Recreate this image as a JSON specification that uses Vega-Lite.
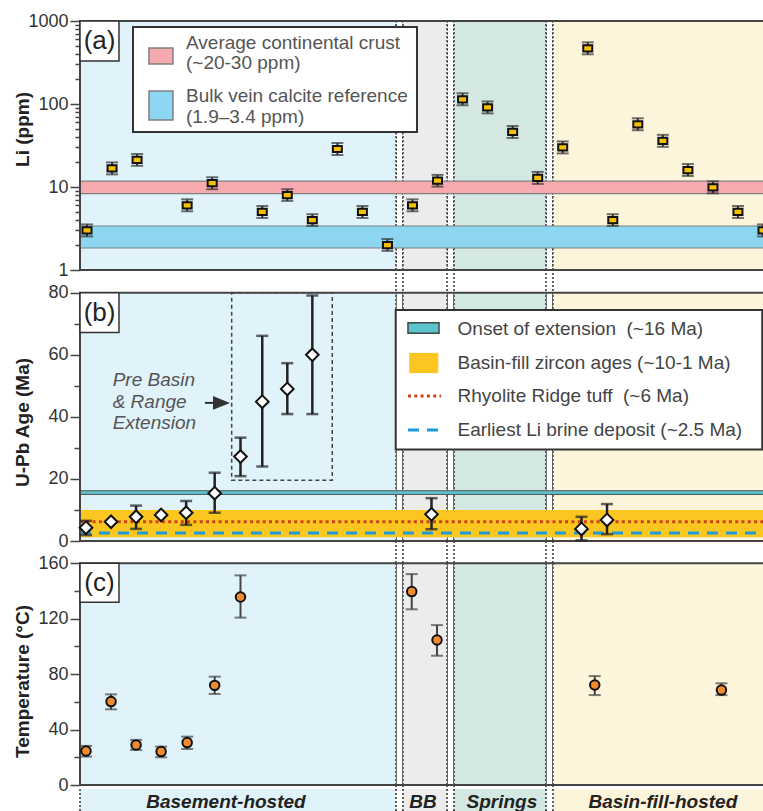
{
"$schema": "https://vega.github.io/schema/vega-lite/v6.json",
"autosize": "none",
"width": 683,
"height": 790,
"padding": {"left": 80, "top": 21, "right": 0, "bottom": 0},
"background": "white",
"config": {"view": {"stroke": null}, "font": "Liberation Sans"},
"datasets": {
 "one": [{"k": 1}],
 "groups": [
  {"group": "Basement", "start": -0.28, "end": 12.34, "mid": 5.55, "label": "Basement-hosted"},
  {"group": "BB", "start": 12.62, "end": 14.38, "mid": 13.42, "label": "BB"},
  {"group": "Springs", "start": 14.66, "end": 18.33, "mid": 16.57, "label": "Springs"},
  {"group": "Basin", "start": 18.61, "end": 27.5, "mid": 23.0, "label": "Basin-fill-hosted"}
 ],
 "li": [
  {"s": 0, "v": 3.0, "lo": 2.54, "hi": 3.54},
  {"s": 1, "v": 16.8, "lo": 14.2, "hi": 19.8},
  {"s": 2, "v": 21.2, "lo": 18.0, "hi": 25.0},
  {"s": 4, "v": 6.0, "lo": 5.1, "hi": 7.1},
  {"s": 5, "v": 11.1, "lo": 9.4, "hi": 13.1},
  {"s": 7, "v": 5.0, "lo": 4.24, "hi": 5.9},
  {"s": 8, "v": 8.0, "lo": 6.8, "hi": 9.4},
  {"s": 9, "v": 4.0, "lo": 3.4, "hi": 4.7},
  {"s": 10, "v": 28.7, "lo": 24.3, "hi": 33.9},
  {"s": 11, "v": 5.0, "lo": 4.24, "hi": 5.9},
  {"s": 12, "v": 2.0, "lo": 1.7, "hi": 2.36},
  {"s": 13, "v": 6.0, "lo": 5.1, "hi": 7.1},
  {"s": 14, "v": 11.9, "lo": 10.1, "hi": 14.0},
  {"s": 15, "v": 114, "lo": 96.6, "hi": 134.5},
  {"s": 16, "v": 91, "lo": 77.1, "hi": 107.4},
  {"s": 17, "v": 46, "lo": 39, "hi": 54.3},
  {"s": 18, "v": 12.9, "lo": 10.9, "hi": 15.2},
  {"s": 19, "v": 30, "lo": 25.4, "hi": 35.4},
  {"s": 20, "v": 469, "lo": 397, "hi": 553},
  {"s": 21, "v": 4.0, "lo": 3.4, "hi": 4.7},
  {"s": 22, "v": 57, "lo": 48.3, "hi": 67.3},
  {"s": 23, "v": 36, "lo": 30.5, "hi": 42.5},
  {"s": 24, "v": 16, "lo": 13.6, "hi": 18.9},
  {"s": 25, "v": 9.9, "lo": 8.4, "hi": 11.7},
  {"s": 26, "v": 5.0, "lo": 4.24, "hi": 5.9},
  {"s": 27, "v": 3.0, "lo": 2.54, "hi": 3.54}
 ],
 "age": [
  {"s": -0.04, "v": 4.3, "lo": 1.9, "hi": 6.5},
  {"s": 0.96, "v": 6.2, "lo": null, "hi": null},
  {"s": 1.96, "v": 7.8, "lo": 3.9, "hi": 11.4},
  {"s": 2.96, "v": 8.4, "lo": null, "hi": null},
  {"s": 3.96, "v": 9.1, "lo": 5.2, "hi": 12.9},
  {"s": 5.1, "v": 15.4, "lo": 9.1, "hi": 22.0},
  {"s": 6.13, "v": 27.2, "lo": 20.9, "hi": 33.3},
  {"s": 7.0, "v": 44.9, "lo": 24.0, "hi": 66.1},
  {"s": 8.0, "v": 49.0, "lo": 40.9, "hi": 57.3},
  {"s": 9.0, "v": 60.0, "lo": 40.9, "hi": 79.1},
  {"s": 13.76, "v": 8.6, "lo": 3.8, "hi": 13.8},
  {"s": 19.75, "v": 3.9, "lo": 0.2, "hi": 7.8},
  {"s": 20.77, "v": 6.8, "lo": 2.2, "hi": 11.9}
 ],
 "temp": [
  {"s": -0.04, "v": 24.5, "lo": 20.5, "hi": 28.2},
  {"s": 0.96, "v": 60.2, "lo": 54.6, "hi": 65.4},
  {"s": 1.96, "v": 28.9, "lo": 25.3, "hi": 32.5},
  {"s": 2.96, "v": 24.1, "lo": 20.0, "hi": 27.7},
  {"s": 4.0, "v": 30.6, "lo": 26.0, "hi": 34.9},
  {"s": 5.1, "v": 71.9, "lo": 65.7, "hi": 78.2},
  {"s": 6.13, "v": 135.7, "lo": 120.8, "hi": 151.3},
  {"s": 12.97, "v": 139.6, "lo": 126.8, "hi": 152.2},
  {"s": 13.98, "v": 104.6, "lo": 93.3, "hi": 115.4},
  {"s": 20.28, "v": 72.2, "lo": 64.9, "hi": 78.6},
  {"s": 25.34, "v": 68.5, "lo": 64.9, "hi": 73.4}
 ]
},
"resolve": {"scale": {"y": "independent"}, "axis": {"y": "independent"}},
"layer": [
 {"data": {"name": "groups"}, "transform": [{"filter": "datum.start > 0"}],
  "mark": {"type": "rule", "color": "#555", "strokeDash": [2, 2], "strokeWidth": 1.8},
  "encoding": {"x": {"field": "start", "type": "quantitative", "scale": {"domain": [-0.28, 27], "nice": false}, "axis": null}}},
 {"data": {"name": "groups"}, "transform": [{"filter": "datum.end < 27"}],
  "mark": {"type": "rule", "color": "#555", "strokeDash": [2, 2], "strokeWidth": 1.8},
  "encoding": {"x": {"field": "end", "type": "quantitative", "scale": {"domain": [-0.28, 27], "nice": false}, "axis": null}}},

 {"layer": [
  {"data": {"name": "groups"}, "mark": {"type": "rect"},
   "encoding": {
    "x": {"field": "start", "type": "quantitative", "scale": {"domain": [-0.28, 27], "nice": false}, "axis": null},
    "x2": {"field": "end"},
    "y": {"datum": 1, "type": "quantitative", "scale": {"type": "log", "domain": [1, 1000], "range": [249, 0], "nice": false},
      "axis": {"orient": "left", "values": [1,2,3,4,5,6,7,8,9,10,20,30,40,50,60,70,80,90,100,200,300,400,500,600,700,800,900,1000],
       "format": "d", "labelExpr": "(datum.value==1||datum.value==10||datum.value==100||datum.value==1000) ? datum.label : ''",
       "tickSize": {"condition": {"test": "datum.value==1||datum.value==10||datum.value==100||datum.value==1000", "value": 10}, "value": 5},
       "domain": false, "grid": false, "labelFontSize": 18, "labelColor": "#333", "labelPadding": 2, "labelOverlap": false, "labelFlush": false, "labelBound": false,
       "tickColor": "#444", "tickWidth": 1.5,
       "title": "Li (ppm)", "titleFontSize": 19, "titleFontWeight": "bold", "titleColor": "#222",
       "titleX": -58, "titleY": 108, "titleAngle": -90, "titleBaseline": "middle", "titleAlign": "center"}},
    "y2": {"datum": 1000},
    "color": {"field": "group", "type": "nominal", "scale": {"domain": ["Basement", "BB", "Springs", "Basin"], "range": ["#e0f2fa", "#ececec", "#d4e8e3", "#fdf4dc"]}, "legend": null}
   }},
  {"data": {"name": "groups"}, "transform": [{"filter": "datum.start > 0"}],
   "mark": {"type": "rule", "color": "#555", "strokeDash": [2, 2], "strokeWidth": 1.8},
   "encoding": {"x": {"field": "start", "type": "quantitative", "scale": {"domain": [-0.28, 27], "nice": false}, "axis": null},
    "y": {"datum": 1, "type": "quantitative", "scale": {"type": "log", "domain": [1, 1000], "range": [249, 0], "nice": false}}, "y2": {"datum": 1000}}},
  {"data": {"name": "groups"}, "transform": [{"filter": "datum.end < 27"}],
   "mark": {"type": "rule", "color": "#555", "strokeDash": [2, 2], "strokeWidth": 1.8},
   "encoding": {"x": {"field": "end", "type": "quantitative", "scale": {"domain": [-0.28, 27], "nice": false}, "axis": null},
    "y": {"datum": 1, "type": "quantitative", "scale": {"type": "log", "domain": [1, 1000], "range": [249, 0], "nice": false}}, "y2": {"datum": 1000}}},
  {"data": {"name": "one"}, "mark": {"type": "rect", "fill": "#f6aaaf", "stroke": "#808080", "strokeWidth": 1.2},
   "encoding": {"x": {"datum": -0.28, "type": "quantitative", "scale": {"domain": [-0.28, 27], "nice": false}, "axis": null}, "x2": {"datum": 27.5},
    "y": {"datum": 8.3, "type": "quantitative", "scale": {"type": "log", "domain": [1, 1000], "range": [249, 0], "nice": false}}, "y2": {"datum": 11.8}}},
  {"data": {"name": "one"}, "mark": {"type": "rect", "fill": "#8dd6f2", "stroke": "#808080", "strokeWidth": 1.2},
   "encoding": {"x": {"datum": -0.28, "type": "quantitative", "scale": {"domain": [-0.28, 27], "nice": false}, "axis": null}, "x2": {"datum": 27.5},
    "y": {"datum": 1.84, "type": "quantitative", "scale": {"type": "log", "domain": [1, 1000], "range": [249, 0], "nice": false}}, "y2": {"datum": 3.39}}},
  {"data": {"name": "one"}, "mark": {"type": "rect", "fillOpacity": 0, "stroke": "#444", "strokeWidth": 2},
   "encoding": {"x": {"datum": -0.28, "type": "quantitative", "scale": {"domain": [-0.28, 27], "nice": false}, "axis": null}, "x2": {"datum": 27.5},
    "y": {"datum": 1, "type": "quantitative", "scale": {"type": "log", "domain": [1, 1000], "range": [249, 0], "nice": false}}, "y2": {"datum": 1000}}},
  {"data": {"name": "one"}, "mark": {"type": "rect", "fill": "white", "stroke": "#333", "strokeWidth": 1.5},
   "encoding": {"x": {"datum": -0.28, "type": "quantitative", "scale": {"domain": [-0.28, 27], "nice": false}, "axis": null}, "x2": {"datum": 1.277},
    "y": {"datum": 330, "type": "quantitative", "scale": {"type": "log", "domain": [1, 1000], "range": [249, 0], "nice": false}}, "y2": {"datum": 1000}}},
  {"data": {"name": "one"}, "mark": {"type": "text", "text": "(a)", "fontSize": 26, "color": "#222", "align": "center", "baseline": "middle"},
   "encoding": {"x": {"datum": 0.5, "type": "quantitative", "scale": {"domain": [-0.28, 27], "nice": false}, "axis": null},
    "y": {"datum": 574, "type": "quantitative", "scale": {"type": "log", "domain": [1, 1000], "range": [249, 0], "nice": false}}}},
  {"data": {"name": "one"}, "mark": {"type": "rect", "fill": "white", "stroke": "#333", "strokeWidth": 2},
   "encoding": {"x": {"datum": 1.837, "type": "quantitative", "scale": {"domain": [-0.28, 27], "nice": false}, "axis": null}, "x2": {"datum": 13.18},
    "y": {"datum": 46, "type": "quantitative", "scale": {"type": "log", "domain": [1, 1000], "range": [249, 0], "nice": false}}, "y2": {"datum": 846}}},
  {"data": {"name": "one"}, "mark": {"type": "rect", "fill": "#f6aaaf", "stroke": "#808080", "strokeWidth": 1.5},
   "encoding": {"x": {"datum": 2.476, "type": "quantitative", "scale": {"domain": [-0.28, 27], "nice": false}, "axis": null}, "x2": {"datum": 3.434},
    "y": {"datum": 303, "type": "quantitative", "scale": {"type": "log", "domain": [1, 1000], "range": [249, 0], "nice": false}}, "y2": {"datum": 473}}},
  {"data": {"name": "one"}, "mark": {"type": "rect", "fill": "#8dd6f2", "stroke": "#808080", "strokeWidth": 1.5},
   "encoding": {"x": {"datum": 2.476, "type": "quantitative", "scale": {"domain": [-0.28, 27], "nice": false}, "axis": null}, "x2": {"datum": 3.434},
    "y": {"datum": 64, "type": "quantitative", "scale": {"type": "log", "domain": [1, 1000], "range": [249, 0], "nice": false}}, "y2": {"datum": 143.6}}},
  {"data": {"name": "one"}, "mark": {"type": "text", "text": "Average continental crust", "fontSize": 19, "color": "#555", "align": "left", "baseline": "middle"},
   "encoding": {"x": {"datum": 3.953, "type": "quantitative", "scale": {"domain": [-0.28, 27], "nice": false}, "axis": null},
    "y": {"datum": 543, "type": "quantitative", "scale": {"type": "log", "domain": [1, 1000], "range": [249, 0], "nice": false}}}},
  {"data": {"name": "one"}, "mark": {"type": "text", "text": "(~20-30 ppm)", "fontSize": 19, "color": "#555", "align": "left", "baseline": "middle"},
   "encoding": {"x": {"datum": 3.953, "type": "quantitative", "scale": {"domain": [-0.28, 27], "nice": false}, "axis": null},
    "y": {"datum": 312, "type": "quantitative", "scale": {"type": "log", "domain": [1, 1000], "range": [249, 0], "nice": false}}}},
  {"data": {"name": "one"}, "mark": {"type": "text", "text": "Bulk vein calcite reference", "fontSize": 19, "color": "#555", "align": "left", "baseline": "middle"},
   "encoding": {"x": {"datum": 3.953, "type": "quantitative", "scale": {"domain": [-0.28, 27], "nice": false}, "axis": null},
    "y": {"datum": 125, "type": "quantitative", "scale": {"type": "log", "domain": [1, 1000], "range": [249, 0], "nice": false}}}},
  {"data": {"name": "one"}, "mark": {"type": "text", "text": "(1.9–3.4 ppm)", "fontSize": 19, "color": "#555", "align": "left", "baseline": "middle"},
   "encoding": {"x": {"datum": 3.953, "type": "quantitative", "scale": {"domain": [-0.28, 27], "nice": false}, "axis": null},
    "y": {"datum": 69.7, "type": "quantitative", "scale": {"type": "log", "domain": [1, 1000], "range": [249, 0], "nice": false}}}},
  {"data": {"name": "li"}, "mark": {"type": "errorbar", "ticks": {"color": "#333"}, "rule": {"color": "#333"}, "size": 12, "thickness": 2},
   "encoding": {"x": {"field": "s", "type": "quantitative", "scale": {"domain": [-0.28, 27], "nice": false}, "axis": null},
    "y": {"field": "lo", "type": "quantitative", "title": "Li (ppm)", "scale": {"type": "log", "domain": [1, 1000], "range": [249, 0], "nice": false}}, "y2": {"field": "hi"}}},
  {"data": {"name": "li"}, "mark": {"type": "point", "shape": "M-1.3,-0.9H1.3V0.9H-1.3Z", "size": 48, "filled": true, "fill": "#f5c000", "stroke": "#111", "strokeWidth": 2, "opacity": 1},
   "encoding": {"x": {"field": "s", "type": "quantitative", "scale": {"domain": [-0.28, 27], "nice": false}, "axis": null},
    "y": {"field": "v", "type": "quantitative", "title": "Li (ppm)", "scale": {"type": "log", "domain": [1, 1000], "range": [249, 0], "nice": false}}}}
 ]},

 {"layer": [
  {"data": {"name": "groups"}, "mark": {"type": "rect"},
   "encoding": {
    "x": {"field": "start", "type": "quantitative", "scale": {"domain": [-0.28, 27], "nice": false}, "axis": null},
    "x2": {"field": "end"},
    "y": {"datum": 0, "type": "quantitative", "scale": {"domain": [0, 80], "range": [520, 271.7], "nice": false},
      "axis": {"orient": "left", "values": [0,10,20,30,40,50,60,70,80],
       "labelExpr": "datum.value % 20 == 0 ? datum.label : ''",
       "tickSize": {"condition": {"test": "datum.value % 20 == 0", "value": 10}, "value": 6},
       "domain": false, "grid": false, "labelFontSize": 18, "labelColor": "#333", "labelPadding": 2, "labelOverlap": false, "labelFlush": false, "labelBound": false,
       "tickColor": "#444", "tickWidth": 1.5,
       "title": "U-Pb Age (Ma)", "titleFontSize": 19, "titleFontWeight": "bold", "titleColor": "#222",
       "titleX": -58, "titleY": 401, "titleAngle": -90, "titleBaseline": "middle", "titleAlign": "center"}},
    "y2": {"datum": 80},
    "color": {"field": "group", "type": "nominal", "scale": {"domain": ["Basement", "BB", "Springs", "Basin"], "range": ["#e0f2fa", "#ececec", "#d4e8e3", "#fdf4dc"]}, "legend": null}
   }},
  {"data": {"name": "groups"}, "transform": [{"filter": "datum.start > 0"}],
   "mark": {"type": "rule", "color": "#555", "strokeDash": [2, 2], "strokeWidth": 1.8},
   "encoding": {"x": {"field": "start", "type": "quantitative", "scale": {"domain": [-0.28, 27], "nice": false}, "axis": null},
    "y": {"datum": 0, "type": "quantitative", "scale": {"domain": [0, 80], "range": [520, 271.7], "nice": false}}, "y2": {"datum": 80}}},
  {"data": {"name": "groups"}, "transform": [{"filter": "datum.end < 27"}],
   "mark": {"type": "rule", "color": "#555", "strokeDash": [2, 2], "strokeWidth": 1.8},
   "encoding": {"x": {"field": "end", "type": "quantitative", "scale": {"domain": [-0.28, 27], "nice": false}, "axis": null},
    "y": {"datum": 0, "type": "quantitative", "scale": {"domain": [0, 80], "range": [520, 271.7], "nice": false}}, "y2": {"datum": 80}}},
  {"data": {"name": "one"}, "mark": {"type": "rect", "fill": "#fcc620"},
   "encoding": {"x": {"datum": -0.28, "type": "quantitative", "scale": {"domain": [-0.28, 27], "nice": false}, "axis": null}, "x2": {"datum": 27.5},
    "y": {"datum": 1.2, "type": "quantitative", "scale": {"domain": [0, 80], "range": [520, 271.7], "nice": false}}, "y2": {"datum": 10}}},
  {"data": {"name": "one"}, "mark": {"type": "rect", "fill": "#5cc3cc", "stroke": "#555", "strokeWidth": 1},
   "encoding": {"x": {"datum": -0.28, "type": "quantitative", "scale": {"domain": [-0.28, 27], "nice": false}, "axis": null}, "x2": {"datum": 27.5},
    "y": {"datum": 15, "type": "quantitative", "scale": {"domain": [0, 80], "range": [520, 271.7], "nice": false}}, "y2": {"datum": 16.2}}},
  {"data": {"name": "one"}, "mark": {"type": "rule", "color": "#d0421b", "strokeDash": [3, 3.3], "strokeWidth": 3},
   "encoding": {"x": {"datum": -0.28, "type": "quantitative", "scale": {"domain": [-0.28, 27], "nice": false}, "axis": null}, "x2": {"datum": 27.5},
    "y": {"datum": 6.2, "type": "quantitative", "scale": {"domain": [0, 80], "range": [520, 271.7], "nice": false}}}},
  {"data": {"name": "one"}, "mark": {"type": "rule", "color": "#1b9bd7", "strokeDash": [11, 8], "strokeWidth": 3},
   "encoding": {"x": {"datum": -0.28, "type": "quantitative", "scale": {"domain": [-0.28, 27], "nice": false}, "axis": null}, "x2": {"datum": 27.5},
    "y": {"datum": 2.6, "type": "quantitative", "scale": {"domain": [0, 80], "range": [520, 271.7], "nice": false}}}},
  {"data": {"name": "one"}, "mark": {"type": "rect", "fillOpacity": 0, "stroke": "#444", "strokeWidth": 2},
   "encoding": {"x": {"datum": -0.28, "type": "quantitative", "scale": {"domain": [-0.28, 27], "nice": false}, "axis": null}, "x2": {"datum": 27.5},
    "y": {"datum": 0, "type": "quantitative", "scale": {"domain": [0, 80], "range": [520, 271.7], "nice": false}}, "y2": {"datum": 80}}},
  {"data": {"name": "one"}, "mark": {"type": "rect", "fill": "white", "stroke": "#333", "strokeWidth": 1.5},
   "encoding": {"x": {"datum": -0.28, "type": "quantitative", "scale": {"domain": [-0.28, 27], "nice": false}, "axis": null}, "x2": {"datum": 1.277},
    "y": {"datum": 67.2, "type": "quantitative", "scale": {"domain": [0, 80], "range": [520, 271.7], "nice": false}}, "y2": {"datum": 80}}},
  {"data": {"name": "one"}, "mark": {"type": "text", "text": "(b)", "fontSize": 26, "color": "#222", "align": "center", "baseline": "middle"},
   "encoding": {"x": {"datum": 0.5, "type": "quantitative", "scale": {"domain": [-0.28, 27], "nice": false}, "axis": null},
    "y": {"datum": 73.6, "type": "quantitative", "scale": {"domain": [0, 80], "range": [520, 271.7], "nice": false}}}},
  {"data": {"name": "one"}, "mark": {"type": "rect", "fillOpacity": 0, "stroke": "#444", "strokeWidth": 1.5, "strokeDash": [4, 3]},
   "encoding": {"x": {"datum": 5.778, "type": "quantitative", "scale": {"domain": [-0.28, 27], "nice": false}, "axis": null}, "x2": {"datum": 9.796},
    "y": {"datum": 19.6, "type": "quantitative", "scale": {"domain": [0, 80], "range": [520, 271.7], "nice": false}}, "y2": {"datum": 80}}},
  {"data": {"name": "one"}, "mark": {"type": "text", "text": "Pre Basin", "fontSize": 19, "fontStyle": "italic", "color": "#555", "align": "left", "baseline": "middle"},
   "encoding": {"x": {"datum": 1.025, "type": "quantitative", "scale": {"domain": [-0.28, 27], "nice": false}, "axis": null},
    "y": {"datum": 51.9, "type": "quantitative", "scale": {"domain": [0, 80], "range": [520, 271.7], "nice": false}}}},
  {"data": {"name": "one"}, "mark": {"type": "text", "text": "& Range", "fontSize": 19, "fontStyle": "italic", "color": "#555", "align": "left", "baseline": "middle"},
   "encoding": {"x": {"datum": 1.025, "type": "quantitative", "scale": {"domain": [-0.28, 27], "nice": false}, "axis": null},
    "y": {"datum": 44.9, "type": "quantitative", "scale": {"domain": [0, 80], "range": [520, 271.7], "nice": false}}}},
  {"data": {"name": "one"}, "mark": {"type": "text", "text": "Extension", "fontSize": 19, "fontStyle": "italic", "color": "#555", "align": "left", "baseline": "middle"},
   "encoding": {"x": {"datum": 1.025, "type": "quantitative", "scale": {"domain": [-0.28, 27], "nice": false}, "axis": null},
    "y": {"datum": 38.1, "type": "quantitative", "scale": {"domain": [0, 80], "range": [520, 271.7], "nice": false}}}},
  {"data": {"name": "one"}, "mark": {"type": "rule", "color": "#333", "strokeWidth": 2},
   "encoding": {"x": {"datum": 4.71, "type": "quantitative", "scale": {"domain": [-0.28, 27], "nice": false}, "axis": null}, "x2": {"datum": 5.2},
    "y": {"datum": 44.5, "type": "quantitative", "scale": {"domain": [0, 80], "range": [520, 271.7], "nice": false}}}},
  {"data": {"name": "one"}, "mark": {"type": "point", "shape": "M-1,-0.8L1,0L-1,0.8Z", "size": 289, "filled": true, "color": "#333", "opacity": 1},
   "encoding": {"x": {"datum": 5.371, "type": "quantitative", "scale": {"domain": [-0.28, 27], "nice": false}, "axis": null},
    "y": {"datum": 44.5, "type": "quantitative", "scale": {"domain": [0, 80], "range": [520, 271.7], "nice": false}}}},
  {"data": {"name": "one"}, "mark": {"type": "rect", "fill": "white", "stroke": "#333", "strokeWidth": 2},
   "encoding": {"x": {"datum": 12.33, "type": "quantitative", "scale": {"domain": [-0.28, 27], "nice": false}, "axis": null}, "x2": {"datum": 26.97},
    "y": {"datum": 29.5, "type": "quantitative", "scale": {"domain": [0, 80], "range": [520, 271.7], "nice": false}}, "y2": {"datum": 74.4}}},
  {"data": {"name": "one"}, "mark": {"type": "rect", "fill": "#5cc3cc", "stroke": "#444", "strokeWidth": 1.5},
   "encoding": {"x": {"datum": 12.82, "type": "quantitative", "scale": {"domain": [-0.28, 27], "nice": false}, "axis": null}, "x2": {"datum": 14.06},
    "y": {"datum": 66.9, "type": "quantitative", "scale": {"domain": [0, 80], "range": [520, 271.7], "nice": false}}, "y2": {"datum": 70.3}}},
  {"data": {"name": "one"}, "mark": {"type": "rect", "fill": "#fcc620"},
   "encoding": {"x": {"datum": 12.87, "type": "quantitative", "scale": {"domain": [-0.28, 27], "nice": false}, "axis": null}, "x2": {"datum": 14.03},
    "y": {"datum": 54.1, "type": "quantitative", "scale": {"domain": [0, 80], "range": [520, 271.7], "nice": false}}, "y2": {"datum": 60.6}}},
  {"data": {"name": "one"}, "mark": {"type": "rule", "color": "#d0421b", "strokeDash": [3, 3.3], "strokeWidth": 3},
   "encoding": {"x": {"datum": 12.82, "type": "quantitative", "scale": {"domain": [-0.28, 27], "nice": false}, "axis": null}, "x2": {"datum": 14.14},
    "y": {"datum": 46.7, "type": "quantitative", "scale": {"domain": [0, 80], "range": [520, 271.7], "nice": false}}}},
  {"data": {"name": "one"}, "mark": {"type": "rule", "color": "#1b9bd7", "strokeDash": [11, 8], "strokeWidth": 3},
   "encoding": {"x": {"datum": 12.82, "type": "quantitative", "scale": {"domain": [-0.28, 27], "nice": false}, "axis": null}, "x2": {"datum": 14.14},
    "y": {"datum": 35.8, "type": "quantitative", "scale": {"domain": [0, 80], "range": [520, 271.7], "nice": false}}}},
  {"data": {"name": "one"}, "mark": {"type": "text", "text": "Onset of extension \u00a0(~16 Ma)", "fontSize": 19, "color": "#444", "align": "left", "baseline": "middle"},
   "encoding": {"x": {"datum": 14.8, "type": "quantitative", "scale": {"domain": [-0.28, 27], "nice": false}, "axis": null},
    "y": {"datum": 68.2, "type": "quantitative", "scale": {"domain": [0, 80], "range": [520, 271.7], "nice": false}}}},
  {"data": {"name": "one"}, "mark": {"type": "text", "text": "Basin-fill zircon ages (~10-1 Ma)", "fontSize": 19, "color": "#444", "align": "left", "baseline": "middle"},
   "encoding": {"x": {"datum": 14.8, "type": "quantitative", "scale": {"domain": [-0.28, 27], "nice": false}, "axis": null},
    "y": {"datum": 57.2, "type": "quantitative", "scale": {"domain": [0, 80], "range": [520, 271.7], "nice": false}}}},
  {"data": {"name": "one"}, "mark": {"type": "text", "text": "Rhyolite Ridge tuff \u00a0(~6 Ma)", "fontSize": 19, "color": "#444", "align": "left", "baseline": "middle"},
   "encoding": {"x": {"datum": 14.8, "type": "quantitative", "scale": {"domain": [-0.28, 27], "nice": false}, "axis": null},
    "y": {"datum": 46.7, "type": "quantitative", "scale": {"domain": [0, 80], "range": [520, 271.7], "nice": false}}}},
  {"data": {"name": "one"}, "mark": {"type": "text", "text": "Earliest Li brine deposit (~2.5 Ma)", "fontSize": 19, "color": "#444", "align": "left", "baseline": "middle"},
   "encoding": {"x": {"datum": 14.8, "type": "quantitative", "scale": {"domain": [-0.28, 27], "nice": false}, "axis": null},
    "y": {"datum": 35.8, "type": "quantitative", "scale": {"domain": [0, 80], "range": [520, 271.7], "nice": false}}}},
  {"data": {"name": "age"}, "transform": [{"filter": "datum.lo != null"}],
   "mark": {"type": "errorbar", "ticks": {"color": "#222"}, "rule": {"color": "#222"}, "size": 12, "thickness": 2.5},
   "encoding": {"x": {"field": "s", "type": "quantitative", "scale": {"domain": [-0.28, 27], "nice": false}, "axis": null},
    "y": {"field": "lo", "type": "quantitative", "title": "U-Pb Age (Ma)", "scale": {"domain": [0, 80], "range": [520, 271.7], "nice": false}}, "y2": {"field": "hi"}}},
  {"data": {"name": "age"}, "mark": {"type": "point", "shape": "diamond", "size": 160, "filled": true, "fill": "white", "stroke": "#111", "strokeWidth": 2, "opacity": 1},
   "encoding": {"x": {"field": "s", "type": "quantitative", "scale": {"domain": [-0.28, 27], "nice": false}, "axis": null},
    "y": {"field": "v", "type": "quantitative", "title": "U-Pb Age (Ma)", "scale": {"domain": [0, 80], "range": [520, 271.7], "nice": false}}}}
 ]},

 {"layer": [
  {"data": {"name": "groups"}, "mark": {"type": "rect"},
   "encoding": {
    "x": {"field": "start", "type": "quantitative", "scale": {"domain": [-0.28, 27], "nice": false}, "axis": null},
    "x2": {"field": "end"},
    "y": {"datum": 0, "type": "quantitative", "scale": {"domain": [0, 160], "range": [764, 542.3], "nice": false},
      "axis": {"orient": "left", "values": [0,20,40,60,80,100,120,140,160],
       "labelExpr": "datum.value % 40 == 0 ? datum.label : ''",
       "tickSize": {"condition": {"test": "datum.value % 40 == 0", "value": 10}, "value": 6},
       "domain": false, "grid": false, "labelFontSize": 18, "labelColor": "#333", "labelPadding": 2, "labelOverlap": false, "labelFlush": false, "labelBound": false,
       "tickColor": "#444", "tickWidth": 1.5,
       "title": "Temperature (°C)", "titleFontSize": 19, "titleFontWeight": "bold", "titleColor": "#222",
       "titleX": -58, "titleY": 660, "titleAngle": -90, "titleBaseline": "middle", "titleAlign": "center"}},
    "y2": {"datum": 160},
    "color": {"field": "group", "type": "nominal", "scale": {"domain": ["Basement", "BB", "Springs", "Basin"], "range": ["#e0f2fa", "#ececec", "#d4e8e3", "#fdf4dc"]}, "legend": null}
   }},
  {"data": {"name": "groups"}, "transform": [{"filter": "datum.start > 0"}],
   "mark": {"type": "rule", "color": "#555", "strokeDash": [2, 2], "strokeWidth": 1.8},
   "encoding": {"x": {"field": "start", "type": "quantitative", "scale": {"domain": [-0.28, 27], "nice": false}, "axis": null},
    "y": {"datum": 0, "type": "quantitative", "scale": {"domain": [0, 160], "range": [764, 542.3], "nice": false}}, "y2": {"datum": 160}}},
  {"data": {"name": "groups"}, "transform": [{"filter": "datum.end < 27"}],
   "mark": {"type": "rule", "color": "#555", "strokeDash": [2, 2], "strokeWidth": 1.8},
   "encoding": {"x": {"field": "end", "type": "quantitative", "scale": {"domain": [-0.28, 27], "nice": false}, "axis": null},
    "y": {"datum": 0, "type": "quantitative", "scale": {"domain": [0, 160], "range": [764, 542.3], "nice": false}}, "y2": {"datum": 160}}},
  {"data": {"name": "one"}, "mark": {"type": "rect", "fillOpacity": 0, "stroke": "#444", "strokeWidth": 2},
   "encoding": {"x": {"datum": -0.28, "type": "quantitative", "scale": {"domain": [-0.28, 27], "nice": false}, "axis": null}, "x2": {"datum": 27.5},
    "y": {"datum": 0, "type": "quantitative", "scale": {"domain": [0, 160], "range": [764, 542.3], "nice": false}}, "y2": {"datum": 160}}},
  {"data": {"name": "one"}, "mark": {"type": "rect", "fill": "white", "stroke": "#333", "strokeWidth": 1.5},
   "encoding": {"x": {"datum": -0.28, "type": "quantitative", "scale": {"domain": [-0.28, 27], "nice": false}, "axis": null}, "x2": {"datum": 1.277},
    "y": {"datum": 131.8, "type": "quantitative", "scale": {"domain": [0, 160], "range": [764, 542.3], "nice": false}}, "y2": {"datum": 160}}},
  {"data": {"name": "one"}, "mark": {"type": "text", "text": "(c)", "fontSize": 26, "color": "#222", "align": "center", "baseline": "middle"},
   "encoding": {"x": {"datum": 0.5, "type": "quantitative", "scale": {"domain": [-0.28, 27], "nice": false}, "axis": null},
    "y": {"datum": 145.7, "type": "quantitative", "scale": {"domain": [0, 160], "range": [764, 542.3], "nice": false}}}},
  {"data": {"name": "temp"}, "mark": {"type": "errorbar", "ticks": {"color": "#444"}, "rule": {"color": "#444"}, "size": 12, "thickness": 2},
   "encoding": {"x": {"field": "s", "type": "quantitative", "scale": {"domain": [-0.28, 27], "nice": false}, "axis": null},
    "y": {"field": "lo", "type": "quantitative", "title": "Temperature (°C)", "scale": {"domain": [0, 160], "range": [764, 542.3], "nice": false}}, "y2": {"field": "hi"}}},
  {"data": {"name": "temp"}, "mark": {"type": "point", "shape": "circle", "size": 90, "filled": true, "fill": "#f08b32", "stroke": "#111", "strokeWidth": 2, "opacity": 1},
   "encoding": {"x": {"field": "s", "type": "quantitative", "scale": {"domain": [-0.28, 27], "nice": false}, "axis": null},
    "y": {"field": "v", "type": "quantitative", "title": "Temperature (°C)", "scale": {"domain": [0, 160], "range": [764, 542.3], "nice": false}}}}
 ]},

 {"layer": [
  {"data": {"name": "groups"}, "mark": {"type": "rect"},
   "encoding": {
    "x": {"field": "start", "type": "quantitative", "scale": {"domain": [-0.28, 27], "nice": false}, "axis": null},
    "x2": {"field": "end"},
    "y": {"datum": 0, "type": "quantitative", "scale": {"domain": [0, 1], "range": [790, 768], "nice": false}, "axis": null},
    "y2": {"datum": 1},
    "color": {"field": "group", "type": "nominal", "scale": {"domain": ["Basement", "BB", "Springs", "Basin"], "range": ["#e0f2fa", "#ececec", "#d4e8e3", "#fdf4dc"]}, "legend": null}
   }},
  {"data": {"name": "groups"}, "transform": [{"filter": "datum.end < 27"}],
   "mark": {"type": "rule", "color": "#555", "strokeDash": [2, 2], "strokeWidth": 1.8},
   "encoding": {"x": {"field": "end", "type": "quantitative", "scale": {"domain": [-0.28, 27], "nice": false}, "axis": null},
    "y": {"datum": 0, "type": "quantitative", "scale": {"domain": [0, 1], "range": [790, 768], "nice": false}, "axis": null}, "y2": {"datum": 1}}},
  {"data": {"name": "groups"},
   "mark": {"type": "rule", "color": "#555", "strokeDash": [2, 2], "strokeWidth": 1.8},
   "encoding": {"x": {"field": "start", "type": "quantitative", "scale": {"domain": [-0.28, 27], "nice": false}, "axis": null},
    "y": {"datum": 0, "type": "quantitative", "scale": {"domain": [0, 1], "range": [790, 768], "nice": false}, "axis": null}, "y2": {"datum": 1}}},
  {"data": {"name": "groups"},
   "mark": {"type": "text", "fontSize": 19, "fontWeight": "bold", "fontStyle": "italic", "color": "#222", "align": "center", "baseline": "alphabetic"},
   "encoding": {"x": {"field": "mid", "type": "quantitative", "scale": {"domain": [-0.28, 27], "nice": false}, "axis": null},
    "y": {"datum": 0.15, "type": "quantitative", "scale": {"domain": [0, 1], "range": [790, 768], "nice": false}, "axis": null},
    "text": {"field": "label"}}}
 ]}
]
}
